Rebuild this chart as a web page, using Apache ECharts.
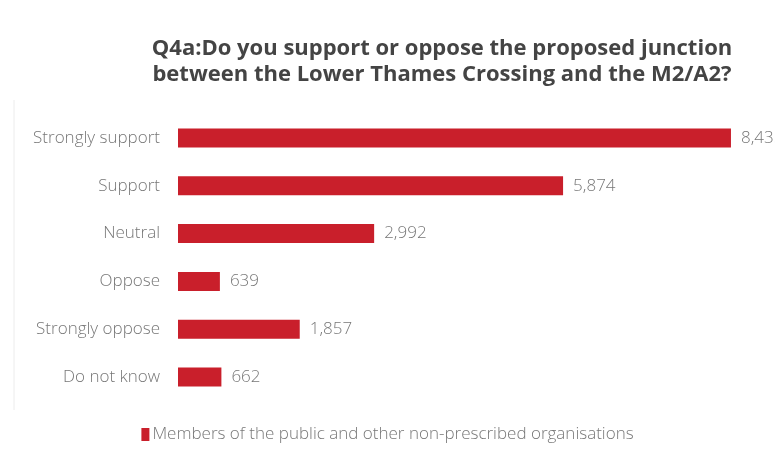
<!DOCTYPE html>
<html>
<head>
<meta charset="utf-8">
<script src="https://cdn.jsdelivr.net/npm/echarts@6/dist/echarts.min.js"></script>
<style>
  html, body { margin: 0; padding: 0; background: #ffffff; }
  #chart { width: 775px; height: 454px; }
</style>
</head>
<body>
<div id="chart"></div>
<script>
// Survey responses, top to bottom
const categories = ['Strongly support', 'Support', 'Neutral', 'Oppose', 'Strongly oppose', 'Do not know'];
const responses = [8435, 5874, 2992, 639, 1857, 662];
const seriesName = 'Members of the public and other non-prescribed organisations';
const titleText = 'Q4a:Do you support or oppose the proposed junction\nbetween the Lower Thames Crossing and the M2/A2?';

const barColor = '#c91f2b';
const textGray = '#777777';
const font = '"Open Sans", Lato, sans-serif';

const chart = echarts.init(document.getElementById('chart'), null, { renderer: 'canvas' });

chart.setOption({
  animation: false,
  backgroundColor: '#ffffff',
  title: {
    text: titleText,
    left: 437,
    textAlign: 'center',
    top: 31,
    textStyle: {
      fontFamily: font,
      fontWeight: 'bold',
      fontSize: 22,
      lineHeight: 26,
      color: '#444444'
    }
  },
  legend: {
    bottom: 6,
    left: 'center',
    itemWidth: 8,
    itemHeight: 13,
    itemGap: 4,
    icon: 'rect',
    textStyle: { fontFamily: font, fontWeight: 300, fontSize: 17, color: textGray, padding: [0, 0, 0, -2] },
    data: [seriesName]
  },
  grid: { left: 178, right: 7, top: 114, bottom: 53, containLabel: false },
  xAxis: {
    type: 'value',
    min: 0,
    max: 9000,
    show: false
  },
  yAxis: {
    type: 'category',
    inverse: true,
    data: categories,
    axisLine: { show: false },
    axisTick: { show: false },
    axisLabel: {
      margin: 18,
      fontFamily: font,
      fontWeight: 300,
      fontSize: 17,
      color: textGray
    }
  },
  series: [{
    name: seriesName,
    type: 'bar',
    data: responses,
    barWidth: 19,
    itemStyle: { color: barColor },
    label: {
      show: true,
      position: 'right',
      distance: 10,
      fontFamily: font,
      fontWeight: 300,
      fontSize: 17,
      color: textGray,
      formatter: p => p.value.toLocaleString('en-GB')
    }
  }],
  graphic: [
    // faint outline of the plot frame
    { type: 'line', shape: { x1: 14, y1: 100, x2: 14, y2: 410 }, style: { stroke: '#ececec', lineWidth: 1 } }
  ]
});
</script>
</body>
</html>
